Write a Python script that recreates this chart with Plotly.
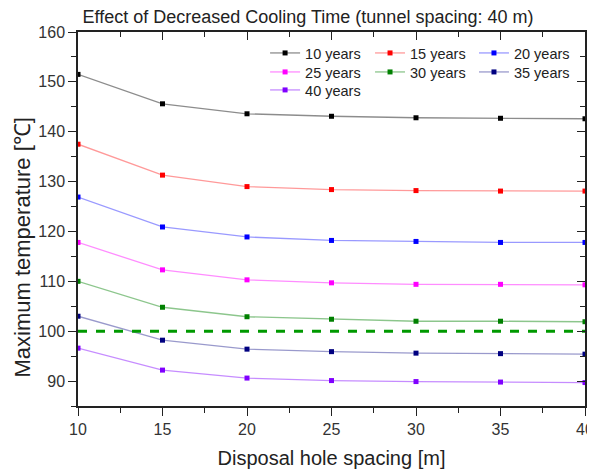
import plotly.graph_objects as go

spacing = [10, 15, 20, 25, 30, 35, 40]
y10 = [151.5, 145.6, 143.6, 143.1, 142.8, 142.7, 142.6]
y15 = [137.5, 131.3, 129.0, 128.4, 128.2, 128.1, 128.1]
y20 = [126.9, 120.9, 118.9, 118.2, 118.0, 117.8, 117.8]
y25 = [117.8, 112.3, 110.3, 109.7, 109.4, 109.4, 109.3]
y30 = [110.0, 104.8, 102.9, 102.4, 102.0, 102.0, 101.9]
y35 = [103.0, 98.2, 96.4, 95.9, 95.6, 95.5, 95.4]
y40 = [96.6, 92.2, 90.6, 90.1, 89.9, 89.8, 89.7]
names = ["10 years", "15 years", "20 years", "25 years", "30 years", "35 years", "40 years"]
threshold = 100

series = [y10, y15, y20, y25, y30, y35, y40]
colors = ["#000000", "#FF0000", "#0000FF", "#FF00FF", "#008000", "#000080", "#8000FF"]
line_colors = ["rgba(0,0,0,0.45)", "rgba(255,0,0,0.4)", "rgba(0,0,255,0.4)",
               "rgba(255,0,255,0.45)", "rgba(0,128,0,0.45)", "rgba(0,0,128,0.4)",
               "rgba(128,0,255,0.45)"]

# page has an 8px body margin: figure coords = screen coords - 8
FONT = "Arial, Liberation Sans, sans-serif"
ML, MR, MT, MB = 70, 18, 24, 72
PW = 595 - ML - MR
PH = 470 - MT - MB

fig = go.Figure()
for i, (ys, nm, c, lc) in enumerate(zip(series, names, colors, line_colors)):
    fig.add_trace(go.Scatter(
        x=spacing, y=ys, name=nm, mode="lines+markers",
        line=dict(color=lc, width=1.3),
        marker=dict(symbol="square", size=5, color=c),
        legend="legend" if i == 0 else f"legend{i + 1}",
    ))

fig.add_trace(go.Scatter(
    x=[spacing[0], spacing[-1]], y=[threshold, threshold], mode="lines",
    line=dict(color="#009900", width=3, dash="dash"), showlegend=False,
))

# invisible trace for mirrored (inside-tick) axes
fig.add_trace(go.Scatter(x=[spacing[0]], y=[threshold], xaxis="x2", yaxis="y2",
                         mode="markers", marker=dict(opacity=0), showlegend=False,
                         hoverinfo="skip"))

axis_common = dict(showgrid=False, zeroline=False, showline=True, linecolor="#222",
                   linewidth=1.5, tickcolor="#222", ticklen=8, tickwidth=1.3,
                   automargin=False,
                   tickfont=dict(family=FONT, size=16, color="#333"))

mirror_common = dict(showticklabels=False, showgrid=False, zeroline=False, showline=True,
                     linecolor="#222", linewidth=1.5, tickcolor="#222", ticklen=8,
                     tickwidth=1.3, automargin=False, ticks="inside", tickmode="linear")

leg_common = dict(xanchor="left", yanchor="top", bgcolor="rgba(0,0,0,0)",
                  font=dict(family=FONT, size=14.5, color="#222"), itemwidth=30,
                  tracegroupgap=0)

col_x = [0.369, 0.576, 0.781]
row_y = [0.9866, 0.9358, 0.8877]
legends = {}
for i in range(len(names)):
    key = "legend" if i == 0 else f"legend{i + 1}"
    legends[key] = dict(x=col_x[i % 3], y=row_y[i // 3], **leg_common)

fig.update_layout(
    width=595, height=470,
    margin=dict(l=ML, r=MR, t=MT, b=MB),
    plot_bgcolor="white", paper_bgcolor="white",
    title=dict(text="Effect of Decreased Cooling Time (tunnel spacing: 40 m)",
               x=300 / 595, xanchor="center", y=1 - 9 / 470, yanchor="middle",
               font=dict(family=FONT, size=18, color="#222")),
    xaxis=dict(range=[10, 40], tickmode="linear", tick0=10, dtick=5, ticks="outside",
               minor=dict(dtick=2.5, ticks="outside", ticklen=5, tickcolor="#222"),
               title=dict(text="Disposal hole spacing [m]",
                          font=dict(family=FONT, size=20, color="#222"), standoff=14),
               **axis_common),
    yaxis=dict(range=[85, 160], tickmode="linear", tick0=90, dtick=10, ticks="outside",
               minor=dict(dtick=5, ticks="outside", ticklen=5, tickcolor="#222"),
               **axis_common),
    xaxis2=dict(overlaying="x", side="top", range=[10, 40], tick0=10, dtick=5,
                minor=dict(dtick=2.5, ticks="inside", ticklen=5, tickcolor="#222"),
                **mirror_common),
    yaxis2=dict(overlaying="y", side="right", range=[85, 160], tick0=90, dtick=10,
                minor=dict(dtick=5, ticks="inside", ticklen=5, tickcolor="#222"),
                **mirror_common),
    annotations=[dict(text="Maximum temperature [℃]", textangle=-90,
                      xref="paper", yref="paper",
                      x=-(ML - 13.5) / PW, y=(398 - 240) / PH,
                      xanchor="center", yanchor="middle", showarrow=False,
                      font=dict(family=FONT, size=22, color="#222"))],
    **legends,
)

fig.write_html("out.html")
